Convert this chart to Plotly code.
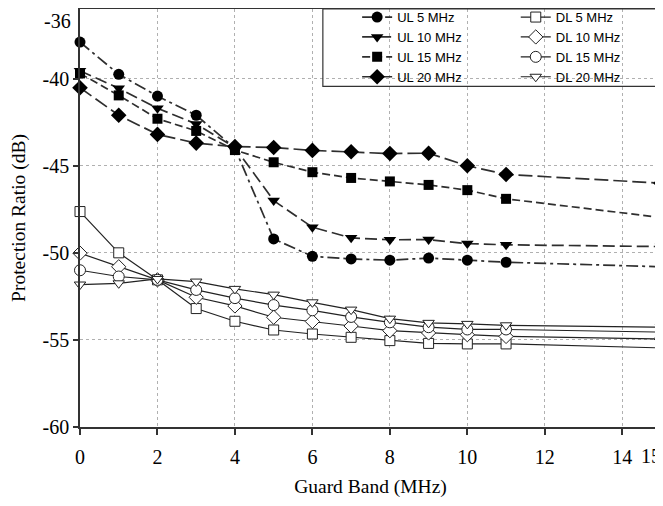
import plotly.graph_objects as go

guard_band = [0, 1, 2, 3, 4, 5, 6, 7, 8, 9, 10, 11, 15]

ul_5 = [-37.9, -39.75, -41.0, -42.1, -44.0, -49.2, -50.2, -50.35, -50.42, -50.3, -50.42, -50.54, -50.8]
ul_10 = [-39.55, -40.55, -41.7, -42.6, -43.95, -47.0, -48.53, -49.14, -49.25, -49.24, -49.47, -49.54, -49.64]
ul_15 = [-39.7, -40.96, -42.3, -43.0, -44.1, -44.8, -45.37, -45.7, -45.9, -46.1, -46.4, -46.9, -47.97]
ul_20 = [-40.52, -42.1, -43.2, -43.7, -43.9, -43.95, -44.12, -44.2, -44.3, -44.28, -45.0, -45.5, -46.0]

dl_5 = [-47.63, -50.0, -51.55, -53.2, -53.93, -54.43, -54.66, -54.85, -55.04, -55.2, -55.23, -55.23, -55.46]
dl_10 = [-50.02, -50.8, -51.55, -52.55, -53.05, -53.7, -53.94, -54.2, -54.47, -54.6, -54.7, -54.8, -54.94]
dl_15 = [-51.0, -51.36, -51.55, -52.13, -52.6, -53.0, -53.3, -53.68, -53.99, -54.27, -54.4, -54.4, -54.55]
dl_20 = [-51.82, -51.75, -51.5, -51.65, -52.07, -52.4, -52.84, -53.26, -53.78, -54.02, -54.08, -54.16, -54.27]

ul_names = ["UL 5 MHz", "UL 10 MHz", "UL 15 MHz", "UL 20 MHz"]
dl_names = ["DL 5 MHz", "DL 10 MHz", "DL 15 MHz", "DL 20 MHz"]

x_ticks = [0, 2, 4, 6, 8, 10, 12, 14, 15]
x_last = 15
y_ticks = [-40, -45, -50, -55, -60]
y_top = -36

fig = go.Figure()

ul_series = [ul_5, ul_10, ul_15, ul_20]
ul_symbols = ["circle", "triangle-down", "square", "diamond"]
ul_sizes = [11, 11, 10, 12]
ul_dashes = ["12px,4px,3px,4px", "12px,5px", "8px,4px", "14px,5px"]

for name, ys, sym, sz, dash in zip(ul_names, ul_series, ul_symbols, ul_sizes, ul_dashes):
    fig.add_trace(go.Scatter(
        x=guard_band, y=ys, name=name, mode="lines+markers", cliponaxis=False,
        line=dict(color="#2e2e2e", width=1.7, dash=dash),
        marker=dict(symbol=sym, size=sz, color="black", line=dict(width=0)),
        legend="legend",
    ))

dl_series = [dl_5, dl_10, dl_15, dl_20]
dl_symbols = ["square", "diamond", "circle", "triangle-down"]
dl_sizes = [10, 11, 11, 10]

for name, ys, sym, sz in zip(dl_names, dl_series, dl_symbols, dl_sizes):
    fig.add_trace(go.Scatter(
        x=guard_band, y=ys, name=name, mode="lines+markers", cliponaxis=False,
        line=dict(color="#222222", width=1.2),
        marker=dict(symbol=sym, size=sz, color="white", line=dict(width=1, color="#222222")),
        legend="legend2",
    ))

serif = "Liberation Serif, Times New Roman, serif"
sans = "Liberation Sans, Arial, sans-serif"
tick_font = dict(family=serif, size=20, color="black")

fig.add_shape(type="rect", xref="paper", yref="paper",
              x0=0.418, x1=1.0, y0=0.815, y1=1.0,
              line=dict(color="#333333", width=1.2), fillcolor="rgba(0,0,0,0)")

# top y tick label, kept just inside the top edge (as in the reference)
fig.add_annotation(x=0, xref="paper", y=y_top, yref="y", text=str(y_top),
                   showarrow=False, xanchor="right", yanchor="top",
                   xshift=-7, yshift=1, font=tick_font)
# last x tick label, kept inside the right edge
fig.add_annotation(x=x_last, xref="x", y=0, yref="paper", text=str(x_last),
                   showarrow=False, xanchor="right", yanchor="top",
                   xshift=2, yshift=-16, font=tick_font)

x_text = [str(v) if v != x_last else "" for v in x_ticks]

fig.update_layout(
    width=655, height=498,
    margin=dict(l=72, r=2, t=1, b=79, autoexpand=False),
    paper_bgcolor="white", plot_bgcolor="white",
    font=dict(family=serif, size=19, color="black"),
    xaxis=dict(
        range=[0, 15], tickvals=x_ticks, ticktext=x_text, tickfont=tick_font,
        showgrid=True, gridcolor="#b0b0b0", griddash="dot", gridwidth=1,
        showline=True, linecolor="#333333", linewidth=1.5, mirror=True,
        ticks="outside", ticklen=6, tickcolor="#333333", tickwidth=1.5,
        ticklabelstandoff=5,
        zeroline=False, automargin=False, ticklabeloverflow="allow",
        title=dict(text="Guard Band (MHz)", font=dict(family=serif, size=19.5), standoff=13),
    ),
    yaxis=dict(
        range=[-60, -36], tickvals=y_ticks, ticktext=[str(v) for v in y_ticks], tickfont=tick_font,
        showgrid=True, gridcolor="#b0b0b0", griddash="dot", gridwidth=1,
        showline=True, linecolor="#333333", linewidth=1.5, mirror=True,
        ticks="outside", ticklen=5, tickcolor="#333333", tickwidth=1.5,
        zeroline=False, automargin=False, ticklabeloverflow="allow",
        title=dict(text="Protection Ratio (dB)", font=dict(family=serif, size=19.5), standoff=13),
    ),
    legend=dict(
        x=0.477, y=1.0165, xanchor="left", yanchor="top",
        bgcolor="rgba(0,0,0,0)", borderwidth=0,
        font=dict(family=sans, size=13, color="black"),
        tracegroupgap=0, itemsizing="trace",
    ),
    legend2=dict(
        x=0.75, y=1.0165, xanchor="left", yanchor="top",
        bgcolor="rgba(0,0,0,0)", borderwidth=0,
        font=dict(family=sans, size=13, color="black"),
        tracegroupgap=0, itemsizing="trace",
    ),
    showlegend=True,
)

fig.write_html("out.html")
